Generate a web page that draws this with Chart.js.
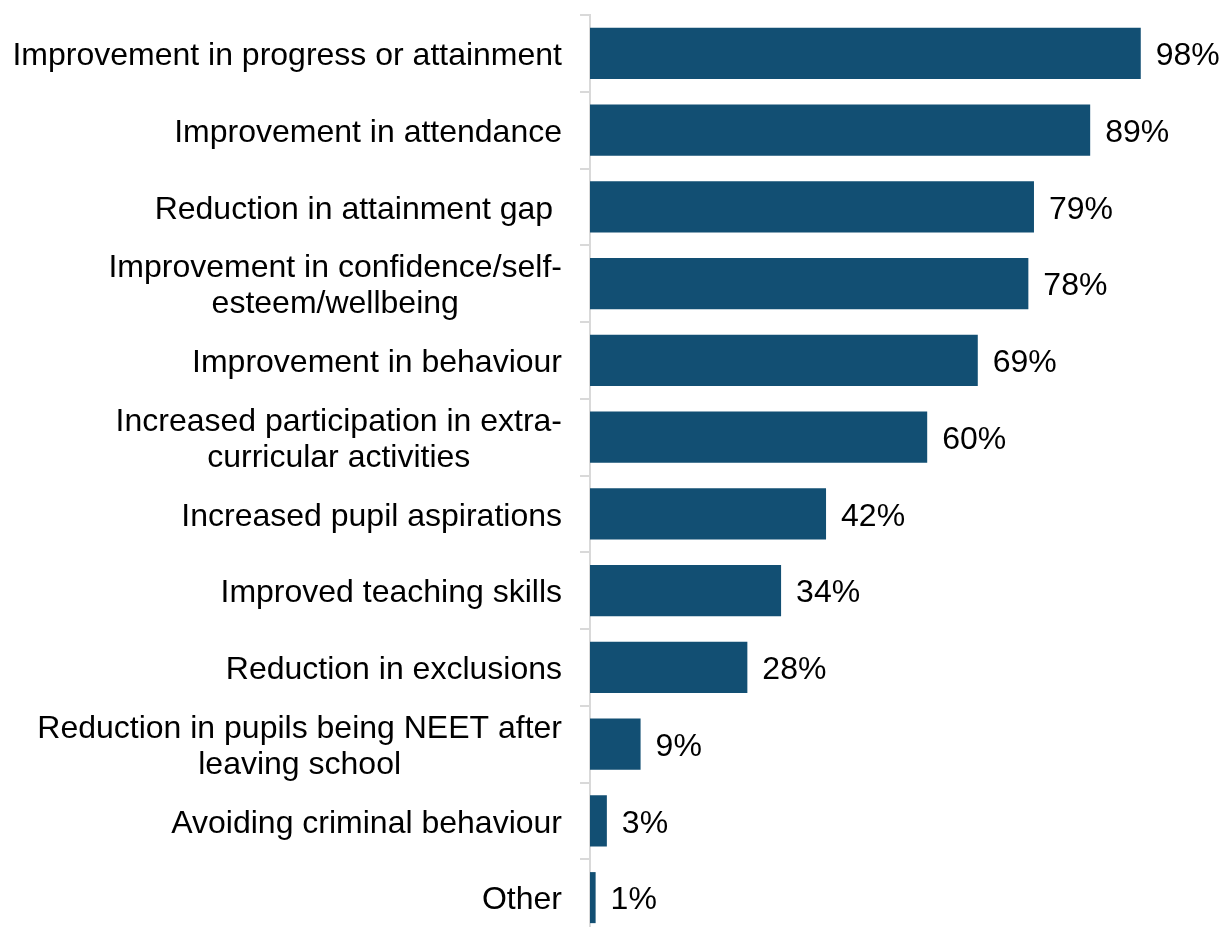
<!DOCTYPE html>
<html>
<head>
<meta charset="utf-8">
<script src="https://cdn.jsdelivr.net/npm/chart.js@4/dist/chart.umd.min.js"></script>
<style>
  html, body { margin: 0; padding: 0; background: #ffffff; overflow: hidden; }
  #wrap { width: 1222px; height: 936px; }
</style>
</head>
<body>
<div id="wrap"><canvas id="chart" width="1222" height="936"></canvas></div>
<script>
// Reported impacts, share of respondents (%)
const categories = [
  ["Improvement in progress or attainment"],
  ["Improvement in attendance"],
  ["Reduction in attainment gap "],
  ["Improvement in confidence/self-", "esteem/wellbeing"],
  ["Improvement in behaviour"],
  ["Increased participation in extra-", "curricular activities"],
  ["Increased pupil aspirations"],
  ["Improved teaching skills"],
  ["Reduction in exclusions"],
  ["Reduction in pupils being NEET after", "leaving school"],
  ["Avoiding criminal behaviour"],
  ["Other"]
];
const shares = [98, 89, 79, 78, 69, 60, 42, 34, 28, 9, 3, 1];

const FONT = '32px "Liberation Sans", Arial, sans-serif';
const BAR_COLOR = '#124f73';
const AXIS_GREY = '#d9d9d9';

// Category labels: block right-aligned next to the axis, wrapped lines centred within the block
const categoryLabels = {
  id: 'categoryLabels',
  afterDraw(chart) {
    const y = chart.scales.y;
    const ctx = chart.ctx;
    const rightEdge = y.right - 28;
    const lineH = 36;
    ctx.save();
    ctx.font = FONT;
    ctx.fillStyle = '#000000';
    ctx.textBaseline = 'middle';
    ctx.textAlign = 'center';
    categories.forEach((lines, i) => {
      const cy = y.getPixelForValue(i) + 3;
      const widest = Math.max(...lines.map(l => ctx.measureText(l).width));
      const cx = rightEdge - widest / 2;
      lines.forEach((line, j) => {
        ctx.fillText(line, cx, cy + (j - (lines.length - 1) / 2) * lineH);
      });
    });
    ctx.restore();
  }
};

// Value labels just past the end of each bar
const valueLabels = {
  id: 'valueLabels',
  afterDatasetsDraw(chart) {
    const ctx = chart.ctx;
    const meta = chart.getDatasetMeta(0);
    ctx.save();
    ctx.font = FONT;
    ctx.fillStyle = '#000000';
    ctx.textBaseline = 'middle';
    ctx.textAlign = 'left';
    meta.data.forEach((bar, i) => {
      ctx.fillText(shares[i] + '%', bar.x + 15, bar.y + 3);
    });
    ctx.restore();
  }
};

new Chart(document.getElementById('chart'), {
  type: 'bar',
  data: {
    labels: categories,
    datasets: [{
      data: shares,
      backgroundColor: BAR_COLOR,
      borderWidth: 0,
      categoryPercentage: 1,
      barPercentage: 0.665
    }]
  },
  options: {
    indexAxis: 'y',
    responsive: false,
    animation: false,
    devicePixelRatio: 1,
    layout: { padding: { top: 15, right: 70, bottom: 0, left: 0 } },
    plugins: {
      legend: { display: false },
      tooltip: { enabled: false }
    },
    scales: {
      x: {
        display: false,
        min: 0,
        max: 100
      },
      y: {
        z: 1,
        offset: true,
        afterFit(scale) { scale.width = 590; },
        ticks: { display: false },
        grid: {
          offset: true,
          drawOnChartArea: false,
          drawTicks: true,
          tickLength: 10,
          color: AXIS_GREY,
          lineWidth: 2
        },
        border: { display: true, color: AXIS_GREY, width: 2 }
      }
    }
  },
  plugins: [categoryLabels, valueLabels]
});
</script>
</body>
</html>
